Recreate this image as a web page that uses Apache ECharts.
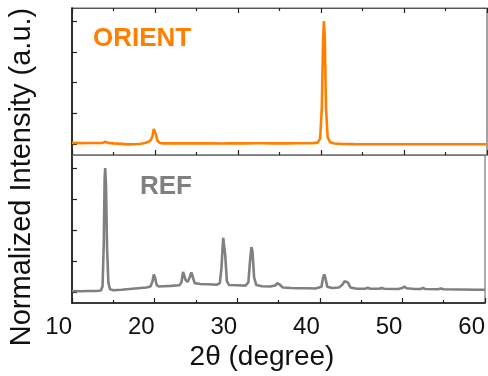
<!DOCTYPE html>
<html>
<head>
<meta charset="utf-8">
<script src="https://cdn.jsdelivr.net/npm/echarts@6/dist/echarts.min.js"></script>
<style>
  html, body { margin: 0; padding: 0; background: #fff; }
  #chart { width: 488px; height: 376px; }
</style>
</head>
<body>
<div id="chart"></div>
<script>
// XRD patterns: oriented film (top panel) and reference powder (bottom panel)
const orientTheta = [10.0, 11.0, 12.0, 13.0, 13.7, 14.0, 14.3, 15.0, 16.0, 16.7, 17.5, 18.3, 18.8, 19.2, 19.5,
  19.7, 19.85, 19.95, 20.1, 20.3, 20.6, 21.0, 22.0, 23.0, 24.0, 25.0, 26.0, 27.0, 28.0, 29.0, 30.0,
  31.0, 32.0, 33.0, 34.0, 35.0, 36.0, 37.0, 38.0, 39.0, 39.6, 39.9, 40.1, 40.25, 40.35, 40.45, 40.6,
  40.8, 41.1, 41.6, 42.5, 44.0, 46.0, 48.0, 50.0, 52.0, 54.0, 56.0, 58.0, 60.0];
const orientIntensity = [0.013, 0.011, 0.012, 0.012, 0.013, 0.022, 0.013, 0.009, 0.005, 0.001, 0.002, 0.006, 0.012, 0.022, 0.035,
  0.07, 0.125, 0.13, 0.085, 0.03, 0.012, 0.009, 0.010, 0.009, 0.010, 0.009, 0.010, 0.009, 0.008, 0.010, 0.009,
  0.009, 0.010, 0.010, 0.009, 0.010, 0.009, 0.010, 0.010, 0.011, 0.015, 0.05, 0.30, 0.85, 1.0, 0.88, 0.30,
  0.06, 0.018, 0.008, 0.004, 0.003, 0.002, 0.002, 0.002, 0.002, 0.002, 0.002, 0.002, 0.002];

const refTheta = [10.0, 11.0, 12.0, 13.0, 13.5, 13.7, 13.85, 13.95, 14.02, 14.12, 14.25, 14.4, 14.6, 15.0, 16.0,
  17.0, 18.0, 19.0, 19.5, 19.75, 19.9, 20.05, 20.25, 20.5, 21.0, 22.0, 23.0, 23.25, 23.45, 23.55, 23.75,
  24.0, 24.25, 24.45, 24.6, 24.85, 25.5, 26.5, 27.5, 27.9, 28.1, 28.3, 28.4, 28.55, 28.75, 29.0, 30.0,
  31.0, 31.35, 31.55, 31.72, 31.85, 32.05, 32.3, 33.0, 34.0, 34.6, 34.85, 35.0, 35.2, 35.5, 36.5, 37.5,
  38.5, 39.5, 40.2, 40.4, 40.55, 40.7, 40.9, 41.5, 42.3, 42.7, 43.0, 43.2, 43.4, 43.7, 44.5, 45.5,
  45.8, 46.1, 47.2, 47.5, 47.8, 49.5, 50.0, 50.25, 50.5, 51.5, 52.2, 52.5, 52.8, 54.3, 54.65, 55.0,
  57.0, 59.0, 60.0];
const refIntensity = [0.012, 0.010, 0.011, 0.012, 0.015, 0.05, 0.40, 0.92, 1.0, 0.85, 0.35, 0.08, 0.025, 0.018, 0.022,
  0.028, 0.034, 0.040, 0.048, 0.09, 0.145, 0.12, 0.06, 0.048, 0.050, 0.053, 0.058, 0.08, 0.165, 0.17, 0.10,
  0.085, 0.12, 0.16, 0.13, 0.075, 0.068, 0.066, 0.062, 0.075, 0.20, 0.44, 0.45, 0.30, 0.09, 0.06, 0.058,
  0.055, 0.08, 0.25, 0.365, 0.33, 0.12, 0.06, 0.050, 0.048, 0.055, 0.075, 0.083, 0.06, 0.040, 0.036, 0.033,
  0.033, 0.032, 0.045, 0.12, 0.145, 0.11, 0.045, 0.035, 0.040, 0.060, 0.090, 0.105, 0.080, 0.040, 0.030, 0.030,
  0.038, 0.030, 0.029, 0.036, 0.029, 0.028, 0.035, 0.048, 0.034, 0.027, 0.028, 0.036, 0.027, 0.026, 0.031, 0.025,
  0.024, 0.022, 0.022];

const xTicks = [10, 20, 30, 40, 50, 60];
const yTicks = [0, 0.25, 0.5, 0.75, 1];

const zip = (xs, ys) => xs.map((x, i) => [x, ys[i]]);

const FONT = '"Liberation Sans", Arial, sans-serif';
const yMin = -0.085, yMax = 1.105;

function xAxisBase(gridIndex, position, lineColor, lineWidth) {
  return {
    type: 'value', gridIndex, position,
    min: xTicks[0], max: xTicks[xTicks.length - 1], interval: 10,
    axisLine: { show: true, onZero: false, lineStyle: { color: lineColor, width: lineWidth } },
    axisTick: { show: true, inside: true, length: 5, lineStyle: { color: '#222', width: 1.2 } },
    minorTick: { show: true, splitNumber: 2, length: 3, lineStyle: { color: '#222', width: 1.2 } },
    axisLabel: { show: false },
    splitLine: { show: false }
  };
}

function yAxisBase(gridIndex) {
  return {
    type: 'value', gridIndex, min: yMin, max: yMax,
    axisLine: { show: true, onZero: false, lineStyle: { color: '#111', width: 1.6 } },
    axisTick: { show: true, inside: true, length: 5, customValues: yTicks, lineStyle: { color: '#222', width: 1.2 } },
    axisLabel: { show: false },
    splitLine: { show: false }
  };
}

const bottomAxis = xAxisBase(1, 'bottom', '#111', 1.6);
bottomAxis.axisLabel = {
  show: true, fontFamily: FONT, fontSize: 24, color: '#111', align: 'right', margin: 12,
  showMinLabel: true, showMaxLabel: true
};

const chart = echarts.init(document.getElementById('chart'), null, { renderer: 'canvas' });
chart.setOption({
  animation: false,
  backgroundColor: '#fff',
  grid: [
    { left: 72, top: 8, width: 415, height: 147, show: true, borderColor: '#666', borderWidth: 1.2, containLabel: false },
    { left: 72, top: 155, width: 415, height: 148, show: true, borderColor: '#777', borderWidth: 1.2, containLabel: false }
  ],
  xAxis: [
    xAxisBase(0, 'bottom', '#777', 1.2),
    xAxisBase(0, 'top', '#555', 1.2),
    bottomAxis
  ],
  yAxis: [yAxisBase(0), yAxisBase(1)],
  series: [
    {
      name: 'ORIENT', type: 'line', xAxisIndex: 0, yAxisIndex: 0,
      data: zip(orientTheta, orientIntensity), showSymbol: false, smooth: false,
      lineStyle: { color: '#ff8000', width: 2.6 }, z: 3
    },
    {
      name: 'REF', type: 'line', xAxisIndex: 2, yAxisIndex: 1,
      data: zip(refTheta, refIntensity), showSymbol: false, smooth: false,
      lineStyle: { color: '#808080', width: 2.6 }, z: 3
    }
  ],
  graphic: [
    { type: 'text', left: 93, top: 26, style: { text: 'ORIENT', fill: '#ff8000', font: 'bold 26px ' + FONT } },
    { type: 'text', left: 140, top: 174, style: { text: 'REF', fill: '#808080', font: 'bold 26px ' + FONT } },
    { type: 'text', x: 22, y: 177, rotation: Math.PI / 2,
      style: { text: 'Normalized Intensity (a.u.)', fill: '#111', font: '29px ' + FONT, align: 'center', verticalAlign: 'middle' } },
    { type: 'text', x: 262, y: 357,
      style: { text: '2θ (degree)', fill: '#111', font: '28px ' + FONT, align: 'center', verticalAlign: 'middle' } }
  ]
});
</script>
</body>
</html>
